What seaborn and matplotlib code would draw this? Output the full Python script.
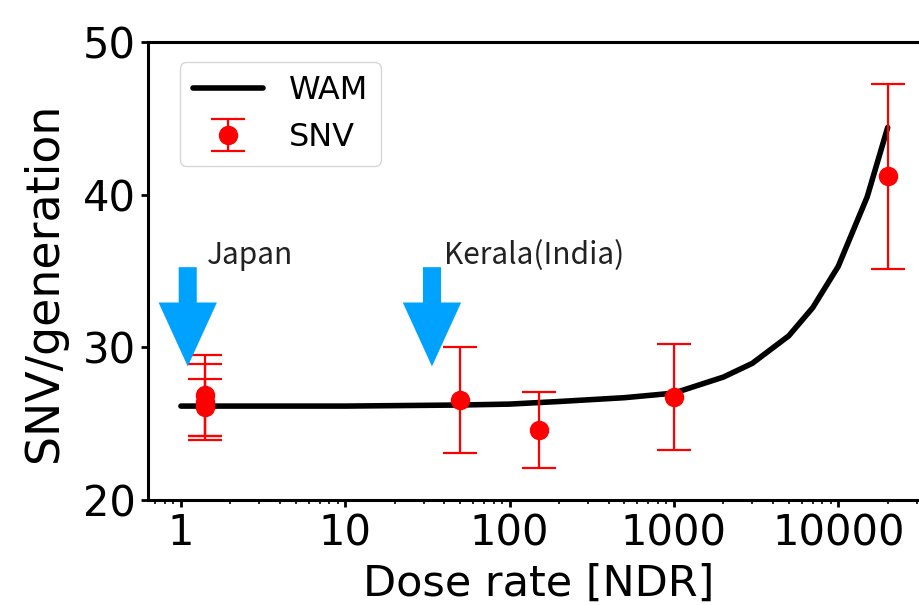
import numpy as np
import matplotlib
matplotlib.use('Agg')
import matplotlib.pyplot as plt
import seaborn as sns

# WAM model curve
wam_dose = [1, 2, 5, 10, 20, 50, 100, 200, 500, 1000, 2000, 3000, 5000, 7000, 10000, 15000, 20000]
wam_snv = [26.15, 26.15, 26.15, 26.15, 26.18, 26.22, 26.28, 26.45, 26.7, 27.0,
           28.05, 28.95, 30.75, 32.6, 35.3, 39.85, 44.4]

# measured SNV with error bars
snv_dose = [1.4, 1.4, 1.4, 50, 150, 1000, 20000]
snv_mean = [26.85, 26.4, 26.06, 26.55, 24.6, 26.75, 41.2]
snv_err = [2.65, 2.5, 1.86, 3.45, 2.5, 3.45, 6.07]

# arrows marking natural background regions
arrow_x = [1.1, 33.7]
arrow_labels = ['Japan', 'Kerala(India)']
label_x = [1.44, 40]

blue = '#00a2ff'

sns.set_style('ticks')
plt.rcParams['font.family'] = ['DejaVu Sans']
plt.rcParams['text.color'] = 'black'
plt.rcParams['axes.labelcolor'] = 'black'
plt.rcParams['xtick.color'] = 'black'
plt.rcParams['ytick.color'] = 'black'

fig = plt.figure(figsize=(9.19, 6.05), dpi=100)
ax = fig.add_axes([0.161, 0.1736, 0.851, 0.757])

sns.lineplot(x=wam_dose, y=wam_snv, color='black', linewidth=4.0, label='WAM', ax=ax)
ax.errorbar(snv_dose, snv_mean, yerr=snv_err, fmt='o', color='red', markersize=13,
            elinewidth=1.6, capsize=12, capthick=1.6, label='SNV', zorder=3)

for xa, lab, xl in zip(arrow_x, arrow_labels, label_x):
    ax.annotate('', xy=(xa, 28.75), xytext=(xa, 35.25),
                arrowprops=dict(arrowstyle='simple,head_width=42,head_length=46,tail_width=13',
                                mutation_scale=1, color=blue, shrinkA=0, shrinkB=0, lw=0))
    ax.text(xl, 36.0, lab, fontsize=21.5, family=['Noto Sans CJK JP', 'DejaVu Sans'],
            ha='left', va='center', color='#222222')

ax.set_xscale('log')
ax.set_xlim(0.63, 36200)
ax.set_ylim(20, 50)
ax.set_yticks([20, 30, 40, 50])
ax.set_xticks([1, 10, 100, 1000, 10000])
ax.set_xticklabels(['1', '10', '100', '1000', '10000'])
ax.tick_params(axis='both', which='major', labelsize=30, width=2, length=5, color='black', pad=4)
ax.tick_params(axis='x', which='minor', width=1.2, length=3)
ax.set_xlabel('Dose rate [NDR]', fontsize=31, labelpad=6)
ax.set_ylabel('SNV/generation', fontsize=33)
ax.yaxis.set_label_coords(-0.104, 0.476)
for s in ax.spines.values():
    s.set_linewidth(2.2)
    s.set_color('black')

leg = ax.legend(loc='upper left', bbox_to_anchor=(0.041, 0.956), borderaxespad=0,
                fontsize=23, handlelength=2.2, frameon=True, fancybox=True)
leg.get_frame().set_edgecolor('#cccccc')

fig.savefig('out.png', dpi=100)
